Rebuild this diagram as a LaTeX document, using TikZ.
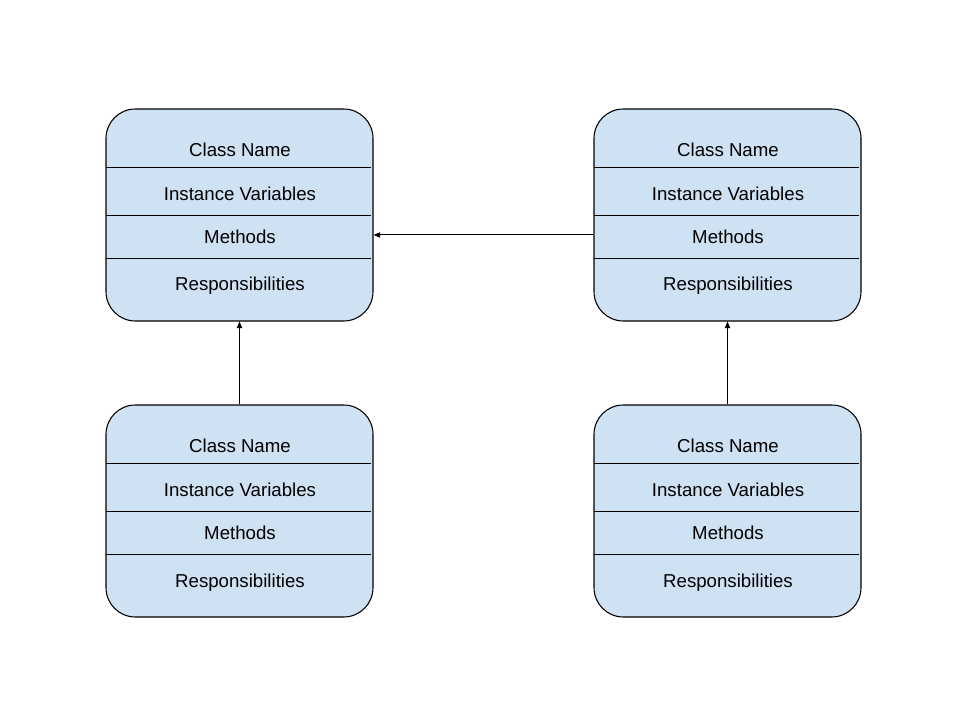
\documentclass[tikz,border=0pt]{standalone}
\usepackage{fontspec}
\setmainfont{Liberation Sans}
\usetikzlibrary{arrows.meta}
\definecolor{boxfill}{HTML}{CFE2F3}
\tikzset{
  cls/.style={draw=black, line width=0.8pt, fill=boxfill, rounded corners=22pt,
    minimum width=267*0.75pt, minimum height=212*0.75pt, inner sep=0pt},
  divline/.style={draw=black, line width=0.6pt},
  lbl/.style={anchor=base, inner sep=0pt, font=\fontsize{14pt}{16pt}\selectfont},
  arr/.style={draw=black, line width=0.75pt, -{Stealth[length=5pt,width=4pt,inset=0pt]}}
}
\begin{document}
\begin{tikzpicture}[x=0.75pt,y=-0.75pt]
\fill[white] (0,0) rectangle (960,720);
\useasboundingbox (0,0) rectangle (960,720);
\foreach \n/\cx/\cy in {tl/239.5/215, tr/727.5/215, bl/239.5/511, br/727.5/511} {
  \node[cls] (\n) at (\cx,\cy) {};
  \coordinate (\n-d1l) at ({\cx-133.5},{\cy-48});
  \coordinate (\n-d1r) at ({\cx+131.5},{\cy-48});
  \coordinate (\n-d2l) at ({\cx-133.5},{\cy});
  \coordinate (\n-d2r) at ({\cx+131.5},{\cy});
  \coordinate (\n-d3l) at ({\cx-133.5},{\cy+43});
  \coordinate (\n-d3r) at ({\cx+131.5},{\cy+43});
  \draw[divline] (\n-d1l) -- (\n-d1r);
  \draw[divline] (\n-d2l) -- (\n-d2r);
  \draw[divline] (\n-d3l) -- (\n-d3r);
  \node[lbl] (\n-name) at ({\cx+0.5},{\cy-58.5}) {Class Name};
  \node[lbl] (\n-vars) at ({\cx+0.5},{\cy-14.5}) {Instance Variables};
  \node[lbl] (\n-meth) at ({\cx+0.5},{\cy+28.5}) {Methods};
  \node[lbl] (\n-resp) at ({\cx+0.5},{\cy+76}) {Responsibilities};
}
\draw[arr] ([yshift=-15pt]tr.west) -- ([yshift=-15pt]tl.east);
\draw[arr] (bl.north) -- (tl.south);
\draw[arr] (br.north) -- (tr.south);
\end{tikzpicture}
\end{document}
